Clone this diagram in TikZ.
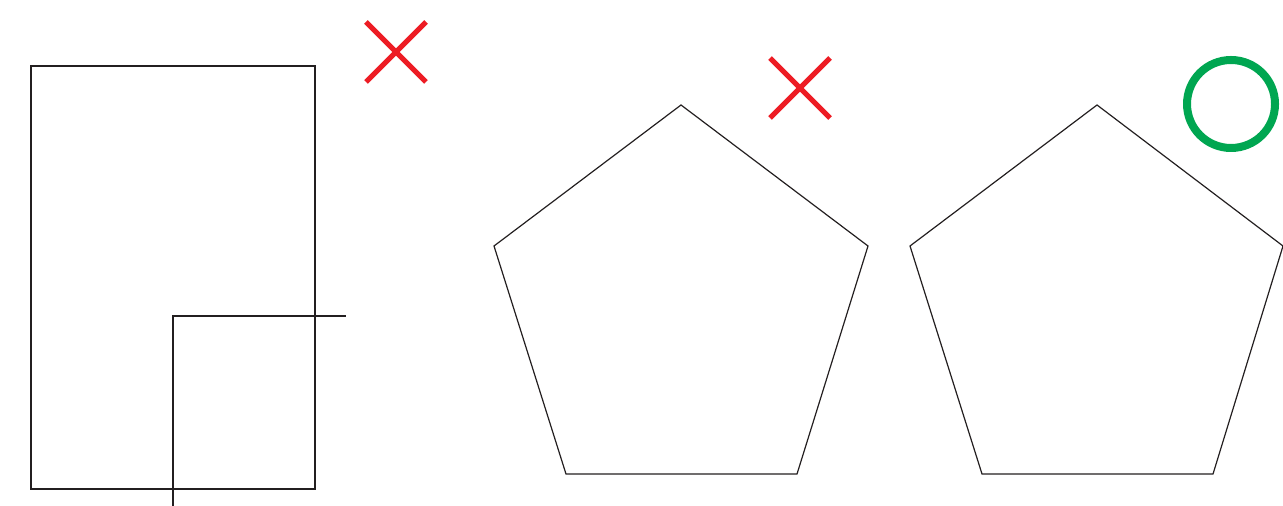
\documentclass[tikz,border=0pt]{standalone}
\definecolor{xred}{HTML}{ED1C24}
\definecolor{ogreen}{HTML}{00A651}
\definecolor{ink}{HTML}{231F20}
\tikzset{
  thin line/.style={draw=ink, line width=0.6pt},
  cross/.style={draw=xred, line width=2.6pt},
  okring/.style={draw=ogreen, line width=4pt},
}
\begin{document}
\begin{tikzpicture}[x=0.5pt,y=-0.5pt]
\useasboundingbox (0,0) rectangle (1283,506);
% rectangle and L line
\draw[thin line] (31,66) rectangle (315,489);
\coordinate (la) at (173,506);
\coordinate (lb) at (173,316);
\coordinate (lc) at (346,316);
\draw[thin line] (la) -- (lb) -- (lc);
% first cross
\coordinate (x1a) at (366,22); \coordinate (x1b) at (426,82);
\coordinate (x1c) at (366,82); \coordinate (x1d) at (426,22);
\draw[cross] (x1a) -- (x1b) (x1c) -- (x1d);
% pentagon 1
\draw[thin line] (681,105) -- (868,246) -- (797,474) -- (566,474) -- (494,246) -- cycle;
% second cross
\coordinate (x2a) at (770,58); \coordinate (x2b) at (830,118);
\coordinate (x2c) at (770,118); \coordinate (x2d) at (830,58);
\draw[cross] (x2a) -- (x2b) (x2c) -- (x2d);
% pentagon 2
\draw[thin line] (1097,105) -- (1283,246) -- (1213,474) -- (982,474) -- (910,246) -- cycle;
% green circle
\draw[okring] (1231,104) circle[radius=44];
\end{tikzpicture}
\end{document}
